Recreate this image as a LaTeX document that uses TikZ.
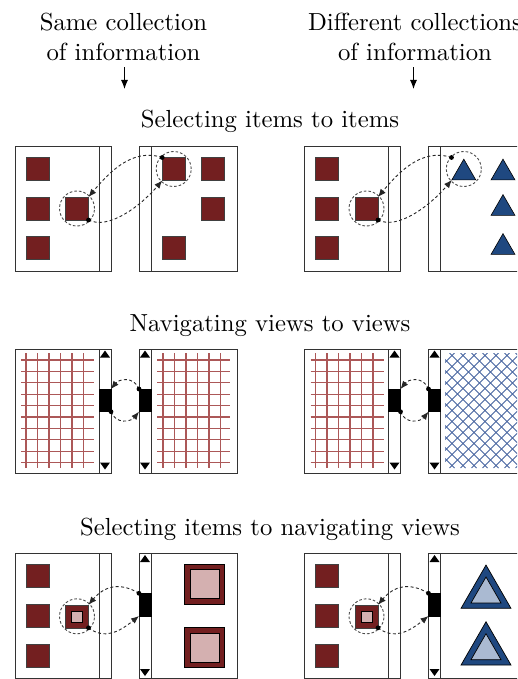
\documentclass[tikz,border=0pt]{standalone}
\usetikzlibrary{shapes.geometric,arrows.meta}
\definecolor{itemred}{RGB}{115,31,32}
\definecolor{itempink}{RGB}{212,176,176}
\definecolor{itemblue}{RGB}{31,72,128}
\definecolor{paleblue}{RGB}{170,186,210}
\definecolor{gridred}{RGB}{172,88,88}
\definecolor{hatchblue}{RGB}{70,100,160}
\begin{document}
\begin{tikzpicture}[x=1pt,y=-1pt,
  title/.style={font=\fontsize{10}{12.15}\selectfont, scale=2.47, transform shape,
    inner sep=0pt, outer sep=0pt},
  headarrow/.style={line width=1.1pt, -{Latex[length=9pt,width=7pt]}},
  panelbox/.style={draw=black!80, line width=0.9pt, fill=white},
  item/.style={rectangle, draw=black!75, fill=itemred, line width=0.6pt,
    minimum size=23pt, inner sep=0pt, outer sep=0pt},
  bigitem/.style={rectangle, draw=black, fill=itemred, line width=0.7pt,
    minimum size=40pt, inner sep=0pt, outer sep=0pt},
  biginner/.style={rectangle, draw=black, fill=itempink, line width=0.7pt,
    minimum size=29pt, inner sep=0pt, outer sep=0pt},
  smallinner/.style={rectangle, draw=black, fill=itempink, line width=0.6pt,
    minimum size=11pt, inner sep=0pt, outer sep=0pt},
  triitem/.style={regular polygon, regular polygon sides=3, draw=black, fill=itemblue,
    line width=0.6pt, minimum size=27.7pt, inner sep=0pt, outer sep=0pt},
  bigtri/.style={regular polygon, regular polygon sides=3, draw=black, fill=itemblue,
    line width=0.7pt, minimum size=57.7pt, inner sep=0pt, outer sep=0pt},
  innertri/.style={regular polygon, regular polygon sides=3, draw=black, fill=paleblue,
    line width=0.7pt, minimum size=34.6pt, inner sep=0pt, outer sep=0pt},
  ring/.style={circle, draw=black!70, dash pattern=on 2.6pt off 2pt, line width=0.9pt,
    minimum size=35pt, inner sep=0pt},
  link/.style={draw=black!85, dash pattern=on 3pt off 2.4pt, line width=0.9pt,
    -{Latex[length=8pt,width=6.5pt]}},
  dot/.style={circle, fill=black, minimum size=4.8pt, inner sep=0pt},
  thumb/.style={rectangle, fill=black, draw=black, line width=0.6pt,
    minimum width=12pt, minimum height=22.7pt, inner sep=0pt, outer sep=0pt},
  gridline/.style={draw=gridred, line width=1.3pt},
  hatchline/.style={draw=hatchblue, line width=0.9pt},
  scrollarrow/.style={fill=black}
]
\useasboundingbox (0,0) rectangle (517,679);
\clip (0,0) rectangle (517,679);

% ---------- column headings ----------
\node[title, align=center, anchor=north] (hsame) at (123.5,13.5) {Same collection\\of information};
\node[title, align=center, anchor=north] (hdiff) at (415,13.5) {Different collections\\of information};
\coordinate (asame) at (124.5,89);
\coordinate (adiff) at (413.5,89);
\draw[headarrow, shorten <=6pt] (asame |- hsame.south) -- (asame);
\draw[headarrow, shorten <=6pt] (adiff |- hdiff.south) -- (adiff);

% ---------- row headings ----------
\node[title, anchor=base] (t1) at (270,128) {Selecting items to items};
\node[title, anchor=base] (t2) at (270,331) {Navigating views to views};
\node[title, anchor=base] (t3) at (270,535) {Selecting items to navigating views};

% =================== same collection ===================
% --- row 1: items to items
\draw[panelbox] (15,146) rectangle (111,271);
\draw[panelbox] (99,146) rectangle (111,271);
\draw[panelbox] (139,146) rectangle (237,271);
\draw[panelbox] (139,146) rectangle (151,271);
\foreach \y [count=\i] in {169,208.5,248} \node[item] (sa\i) at (37.5,\y) {};
\node[item] (ssel) at (77,208.5) {};
\node[item] (stgt) at (173.7,169) {};
\node[item] (sb1) at (213,169) {};
\node[item] (sb2) at (213,208.5) {};
\node[item] (sb3) at (173.7,248) {};
\node[ring] (sring1) at (ssel) {};
\node[ring] (sring2) at (stgt) {};
\draw[link] (ssel.south east) .. controls +(20,10) and +(-22,26) .. (stgt.south west);
\draw[link] (stgt.north west) .. controls +(-30,-10) and +(20,-24) .. (ssel.north east);
\node[dot] (sdot1) at (ssel.south east) {};
\node[dot] (sdot2) at (stgt.north west) {};

% --- row 2: views to views
\draw[panelbox] (15,349) rectangle (111,473);
\foreach \k in {0,...,5} \draw[gridline] ({26+11.5*\k},353) -- ++(0,115);
\foreach \k in {0,...,9} \draw[gridline] (21,{360+11.4*\k}) -- (94,{360+11.4*\k});
\draw[panelbox] (99,349) rectangle (111,473);
\draw[panelbox] (139,349) rectangle (237,473);
\foreach \k in {0,...,5} \draw[gridline] ({163+11.5*\k},353) -- ++(0,115);
\foreach \k in {0,...,9} \draw[gridline] (157,{360+11.4*\k}) -- (230,{360+11.4*\k});
\draw[panelbox] (139,349) rectangle (151,473);
\foreach \x in {105,145} {
  \fill[scrollarrow] (\x-5,357.5) -- (\x+5,357.5) -- (\x,350.5) -- cycle;
  \fill[scrollarrow] (\x-5,462.5) -- (\x+5,462.5) -- (\x,469.5) -- cycle;
}
\node[thumb] (svl) at (105,400.35) {};
\node[thumb] (svr) at (145,400.35) {};
\draw[link] (svl.south east) .. controls +(5,13) and +(-8,10) .. (svr.south west);
\draw[link] (svr.north west) .. controls +(-5,-13) and +(8,-10) .. (svl.north east);
\node[dot] (sdot3) at (svl.south east) {};
\node[dot] (sdot4) at (svr.north west) {};

% --- row 3: items to views
\draw[panelbox] (15,553) rectangle (111,678);
\draw[panelbox] (99,553) rectangle (111,678);
\draw[panelbox] (139,553) rectangle (237,678);
\draw[panelbox] (139,553) rectangle (151,678);
\fill[scrollarrow] (140,562) -- (150,562) -- (145,555) -- cycle;
\fill[scrollarrow] (140,669) -- (150,669) -- (145,676) -- cycle;
\foreach \y [count=\i] in {576,616,656} \node[item] (sc\i) at (37.5,\y) {};
\node[item] (sqsel) at (77,616.3) {};
\node[smallinner] (sqin) at (sqsel) {};
\node[bigitem] (sbig1) at (204.7,584.3) {};
\node[biginner] (sbin1) at (sbig1) {};
\node[bigitem] (sbig2) at (204.7,647.8) {};
\node[biginner] (sbin2) at (sbig2) {};
\node[thumb] (sqt) at (145,604.65) {};
\node[ring] (sring3) at (sqsel) {};
\draw[link] (sqsel.south east) .. controls +(16,12) and +(-20,16) .. (sqt.south west);
\draw[link] (sqt.north west) .. controls +(-20,-12) and +(15,-18) .. (sqsel.north east);
\node[dot] (sdot5) at (sqsel.south east) {};
\node[dot] (sdot6) at (sqt.north west) {};

% =================== different collections ===================
\begin{scope}[xshift=289.5pt]
% --- row 1: items to items
\draw[panelbox] (15,146) rectangle (111,271);
\draw[panelbox] (99,146) rectangle (111,271);
\draw[panelbox] (139,146) rectangle (237,271);
\draw[panelbox] (139,146) rectangle (151,271);
\foreach \y [count=\i] in {169,208.5,248} \node[item] (da\i) at (37.5,\y) {};
\node[item] (dsel) at (77,208.5) {};
\node[triitem] (dtgt) at (174.3,173) {};
\node[triitem] (db1) at (213.5,173) {};
\node[triitem] (db2) at (213.5,208.5) {};
\node[triitem] (db3) at (213.5,247.5) {};
\node[ring] (dring1) at (dsel) {};
\node[ring] (dring2) at (174.3,169) {};
\coordinate (dtop) at (162,157.5);
\draw[link] (dsel.south east) .. controls +(20,10) and +(-22,26) .. (dtgt.corner 2);
\draw[link] (dtop) .. controls +(-30,-10) and +(20,-24) .. (dsel.north east);
\node[dot] (ddot1) at (dsel.south east) {};
\node[dot] (ddot2) at (dtop) {};

% --- row 2: views to views
\draw[panelbox] (15,349) rectangle (111,473);
\foreach \k in {0,...,5} \draw[gridline] ({26+11.5*\k},353) -- ++(0,115);
\foreach \k in {0,...,9} \draw[gridline] (21,{360+11.4*\k}) -- (94,{360+11.4*\k});
\draw[panelbox] (99,349) rectangle (111,473);
\draw[panelbox] (139,349) rectangle (240,473);
\begin{scope}
  \clip (155.5,353) rectangle (240,468);
  \foreach \k in {-12,...,12} {
    \draw[hatchline] ({160+11*\k},353) -- ++(115,115);
    \draw[hatchline] ({160+11*\k},468) -- ++(115,-115);
  }
\end{scope}
\draw[panelbox] (139,349) rectangle (151,473);
\foreach \x in {105,145} {
  \fill[scrollarrow] (\x-5,357.5) -- (\x+5,357.5) -- (\x,350.5) -- cycle;
  \fill[scrollarrow] (\x-5,462.5) -- (\x+5,462.5) -- (\x,469.5) -- cycle;
}
\node[thumb] (dvl) at (105,400.35) {};
\node[thumb] (dvr) at (145,400.35) {};
\draw[link] (dvl.south east) .. controls +(5,13) and +(-8,10) .. (dvr.south west);
\draw[link] (dvr.north west) .. controls +(-5,-13) and +(8,-10) .. (dvl.north east);
\node[dot] (ddot3) at (dvl.south east) {};
\node[dot] (ddot4) at (dvr.north west) {};

% --- row 3: items to views
\draw[panelbox] (15,553) rectangle (111,678);
\draw[panelbox] (99,553) rectangle (111,678);
\draw[panelbox] (139,553) rectangle (240,678);
\draw[panelbox] (139,553) rectangle (151,678);
\fill[scrollarrow] (140,562) -- (150,562) -- (145,555) -- cycle;
\fill[scrollarrow] (140,669) -- (150,669) -- (145,676) -- cycle;
\foreach \y [count=\i] in {576,616,656} \node[item] (dc\i) at (37.5,\y) {};
\node[item] (dqsel) at (77,616.3) {};
\node[smallinner] (dqin) at (dqsel) {};
\node[bigtri] (dbig1) at (196.5,593.9) {};
\node[innertri] (dbin1) at (196.5,594.3) {};
\node[bigtri] (dbig2) at (196.5,650.6) {};
\node[innertri] (dbin2) at (196.5,651) {};
\node[thumb] (dqt) at (145,604.65) {};
\node[ring] (dring3) at (dqsel) {};
\draw[link] (dqsel.south east) .. controls +(16,12) and +(-20,16) .. (dqt.south west);
\draw[link] (dqt.north west) .. controls +(-20,-12) and +(15,-18) .. (dqsel.north east);
\node[dot] (ddot5) at (dqsel.south east) {};
\node[dot] (ddot6) at (dqt.north west) {};
\end{scope}
\end{tikzpicture}
\end{document}
